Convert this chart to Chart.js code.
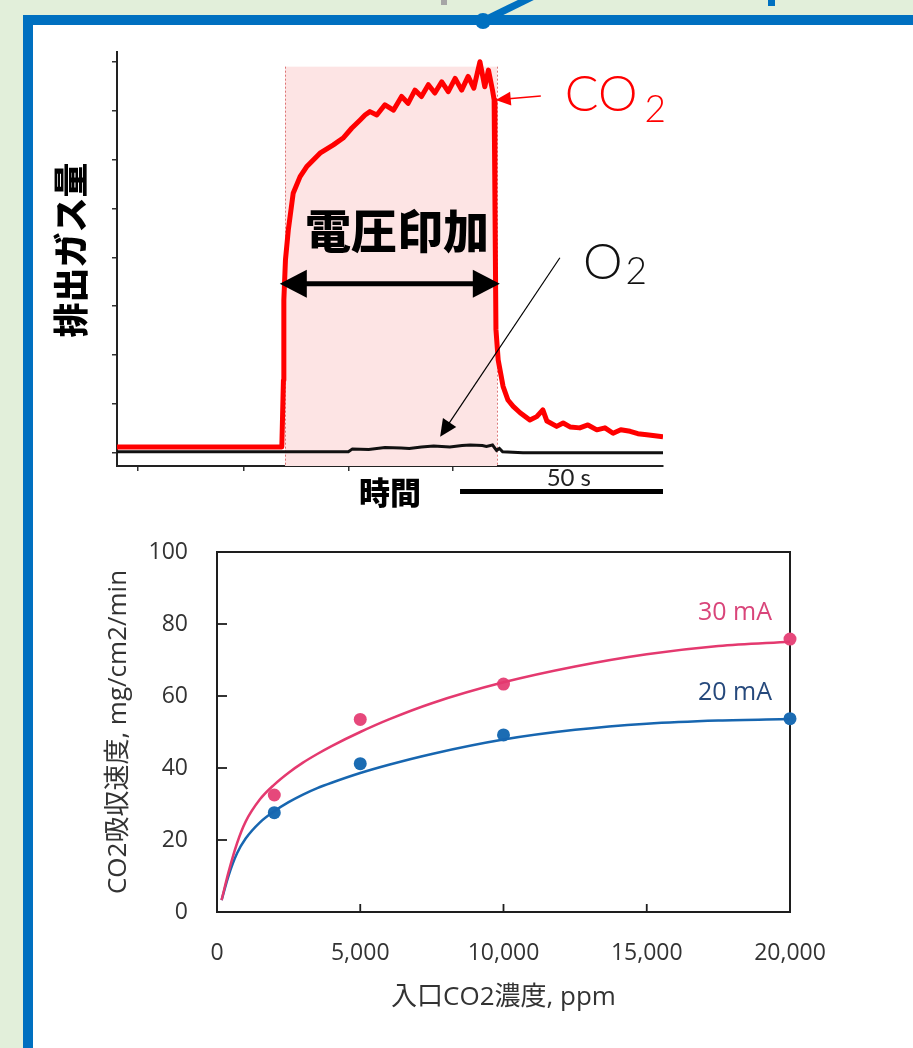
<!DOCTYPE html>
<html>
<head>
<meta charset="utf-8">
<script src="https://cdn.jsdelivr.net/npm/chart.js@4.4.1/dist/chart.umd.min.js"></script>
<style>
  html, body { margin: 0; padding: 0; }
  body { width: 913px; height: 1048px; background: #e2efda; position: relative; overflow: hidden; }
  #panel { position: absolute; left: 23px; top: 15px; width: 920px; height: 1060px;
           border: 10px solid #0070c0; background: #ffffff; }
  #link { position: absolute; left: 0; top: 0; }
  canvas { position: absolute; left: 0; }
</style>
</head>
<body>
<div id="panel"></div>
<svg id="link" width="913" height="40">
  <rect x="441" y="0" width="6" height="5" fill="#a6a6a6"/>
  <rect x="768" y="0" width="7" height="6" fill="#0070c0"/>
  <line x1="483" y1="21" x2="534" y2="-4" stroke="#0070c0" stroke-width="7"/>
  <circle cx="483" cy="21" r="8" fill="#0070c0"/>
</svg>
<canvas id="pulse" width="913" height="520" style="top:0"></canvas>
<canvas id="uptake" width="913" height="528" style="top:520px"></canvas>

<script>
// ---------- Upper panel: outlet gas trace (time in s, arbitrary level units) ----------
const co2Time = [0, 20, 40.6, 41.0, 41.1, 41.5, 42.2, 43.4, 45.1, 46.7, 50.0, 53.3, 55.7, 57.8, 59.9, 61.1, 62.3, 64.0, 66.0, 68.1, 70.1, 71.7, 73.4, 75.0, 76.7, 78.3, 80.0, 81.6, 83.3, 84.9, 86.5, 87.9, 89.4, 90.6, 91.5, 92.5, 92.9, 93.1, 93.35, 93.9, 95.1, 96.3, 97.6, 99.3, 101.7, 103.4, 104.9, 105.9, 108.3, 109.9, 111.6, 114.0, 116.0, 118.2, 120.2, 122.2, 124.1, 126.4, 128.3, 130.5, 132.5, 134.5];
const co2Level = [0.12, 0.12, 0.12, 1.49, 3.13, 3.95, 4.56, 5.31, 5.65, 5.85, 6.13, 6.30, 6.44, 6.64, 6.81, 6.91, 6.98, 6.91, 7.12, 7.01, 7.29, 7.15, 7.42, 7.29, 7.53, 7.36, 7.59, 7.39, 7.66, 7.42, 7.70, 7.46, 8.00, 7.49, 7.83, 7.42, 7.22, 5.17, 2.52, 1.90, 1.36, 1.08, 0.95, 0.82, 0.67, 0.74, 0.88, 0.65, 0.54, 0.61, 0.53, 0.51, 0.57, 0.47, 0.51, 0.40, 0.47, 0.44, 0.39, 0.37, 0.35, 0.33];
const o2Time = [0, 40, 57, 58, 62, 66, 70, 72, 75, 78, 80, 82, 85, 87, 90, 91, 92.5, 93.5, 94.2, 95, 100, 110, 120, 134.5];
const o2Level = [0.02, 0.02, 0.02, 0.08, 0.07, 0.11, 0.10, 0.09, 0.12, 0.14, 0.13, 0.12, 0.15, 0.16, 0.15, 0.13, 0.16, 0.05, 0.09, 0.02, 0.0, 0.0, 0.0, 0.0];
const timeTicks = [5.2, 31.3, 57.1, 82.8];
const levelTicks = [0, 1, 2, 3, 4, 5, 6, 7, 8];

// voltage-on window and annotation anchors (data units: s, level)
const VOLTAGE_ON = 41.4, VOLTAGE_OFF = 93.6, SHADE_TOP = 7.9;
const SPAN_ARROW = { from: 40.1, to: 94.3, level: 3.46 };
const VOLTAGE_LABEL = { t: 69.0, level: 4.55, text: '電圧印加' };
const CO2_LABEL = { t: 110.3, level: 7.0, base: 'CO', sub: '2', subDx: 7, subDy: 11 };
const CO2_POINTER = { from: [104.4, 7.30], to: [93.3, 7.22] };
const O2_LABEL = { t: 114.8, level: 3.56, base: 'O', sub: '2', subDx: 3, subDy: 5 };
const O2_POINTER = { from: [109.1, 3.99], to: [79.6, 0.33] };
const SCALE_BAR = { from: 84.5, to: 134.5, level: -0.79, text: '50 s', textT: 111.3, textLevel: -0.53 };
const LEVEL_TITLE = { text: '排出ガス量', level: 4.15, gap: 46 };

// ---------- Lower panel: CO2 uptake rate vs inlet concentration ----------
const concPpm = [2000, 5000, 10000, 20000];
const rate30mA = [32.5, 53.5, 63.3, 75.8];
const rate20mA = [27.6, 41.2, 49.2, 53.7];
const fitPpm = [160, 400, 700, 1000, 1500, 2000, 2500, 3000, 3500, 4000, 5000, 6000, 7500, 10000, 12500, 15000, 17500, 20000];
const fit30mA = [3.3, 11.0, 19.1, 25.1, 31.3, 35.4, 38.7, 41.5, 43.9, 46.1, 50.0, 53.5, 58.0, 63.8, 68.2, 71.6, 73.9, 75.1];
const fit20mA = [3.3, 10.0, 16.3, 20.4, 24.9, 28.0, 30.5, 32.6, 34.4, 35.9, 38.6, 40.9, 43.9, 47.9, 50.6, 52.3, 53.2, 53.6];
const rateTicks = [0, 20, 40, 60, 80, 100];
const concTicks = [0, 5000, 10000, 15000, 20000];
const SERIES_LABELS = [
  { text: '30 mA', ppm: 19370, rate: 83.1, color: '#d9457a' },
  { text: '20 mA', ppm: 19370, rate: 60.9, color: '#26497c' }
];

const PINK = '#e4396f', BLUE = '#1766b0';
const toXY = (xs, ys) => xs.map((v, i) => ({ x: v, y: ys[i] }));
const noEdgePadding = s => { s.paddingTop = 0; s.paddingBottom = 0; s.paddingLeft = 0; s.paddingRight = 0; };

Chart.defaults.font.family = "'Open Sans', 'Noto Sans CJK JP', sans-serif";
Chart.defaults.color = '#333';

function arrowHead(ctx, x1, y1, x2, y2, len, half) {
  const a = Math.atan2(y2 - y1, x2 - x1);
  const bx = x2 - len * Math.cos(a), by = y2 - len * Math.sin(a);
  ctx.beginPath();
  ctx.moveTo(x2, y2);
  ctx.lineTo(bx + half * Math.sin(a), by - half * Math.cos(a));
  ctx.lineTo(bx - half * Math.sin(a), by + half * Math.cos(a));
  ctx.closePath();
  ctx.fill();
}
function arrow(ctx, x1, y1, x2, y2, len, half, width, color) {
  const a = Math.atan2(y2 - y1, x2 - x1);
  ctx.strokeStyle = color; ctx.fillStyle = color; ctx.lineWidth = width;
  ctx.beginPath();
  ctx.moveTo(x1, y1);
  ctx.lineTo(x2 - (len - 2) * Math.cos(a), y2 - (len - 2) * Math.sin(a));
  ctx.stroke();
  arrowHead(ctx, x1, y1, x2, y2, len, half);
}
function chemLabel(ctx, lbl, x, y, color) {
  ctx.fillStyle = color; ctx.textAlign = 'left'; ctx.textBaseline = 'alphabetic';
  ctx.font = "300 50px Lato, 'Noto Sans', sans-serif";
  ctx.fillText(lbl.base, x, y);
  const w = ctx.measureText(lbl.base).width;
  ctx.font = "300 37px Lato, 'Noto Sans', sans-serif";
  ctx.fillText(lbl.sub, x + w + lbl.subDx, y + lbl.subDy);
}

const pulseDecor = {
  id: 'pulseDecor',
  beforeDatasetsDraw(chart) {
    const { ctx, scales: { x, y } } = chart;
    const x0 = x.getPixelForValue(VOLTAGE_ON), x1 = x.getPixelForValue(VOLTAGE_OFF);
    const yt = y.getPixelForValue(SHADE_TOP);
    ctx.save();
    ctx.fillStyle = '#fde4e4';
    ctx.fillRect(x0, yt, x1 - x0, y.bottom - yt);
    ctx.setLineDash([2, 2]);
    ctx.strokeStyle = 'rgba(214, 96, 96, 0.85)';
    ctx.lineWidth = 1;
    [x0, x1].forEach(px => {
      ctx.beginPath();
      ctx.moveTo(Math.round(px) + 0.5, yt);
      ctx.lineTo(Math.round(px) + 0.5, y.bottom);
      ctx.stroke();
    });
    ctx.restore();
  },
  afterDatasetsDraw(chart) {
    const { ctx, scales: { x, y } } = chart;
    const X = v => x.getPixelForValue(v), Y = v => y.getPixelForValue(v);
    ctx.save();
    // vertical axis title
    ctx.save();
    ctx.translate(x.left - LEVEL_TITLE.gap, Y(LEVEL_TITLE.level));
    ctx.rotate(-Math.PI / 2);
    ctx.fillStyle = '#000';
    ctx.font = "900 35px 'Noto Sans CJK JP', sans-serif";
    ctx.textAlign = 'center'; ctx.textBaseline = 'middle';
    ctx.fillText(LEVEL_TITLE.text, 0, 0);
    ctx.restore();
    // voltage-on span arrow
    const ya = Y(SPAN_ARROW.level), xa = X(SPAN_ARROW.from), xb = X(SPAN_ARROW.to);
    ctx.strokeStyle = '#000'; ctx.fillStyle = '#000'; ctx.lineWidth = 5;
    ctx.beginPath(); ctx.moveTo(xa + 20, ya); ctx.lineTo(xb - 20, ya); ctx.stroke();
    arrowHead(ctx, xb, ya, xa, ya, 27, 14);
    arrowHead(ctx, xa, ya, xb, ya, 27, 14);
    // span label
    ctx.font = "900 46px 'Noto Sans CJK JP', sans-serif";
    ctx.textAlign = 'center'; ctx.textBaseline = 'middle';
    ctx.fillText(VOLTAGE_LABEL.text, X(VOLTAGE_LABEL.t), Y(VOLTAGE_LABEL.level));
    // gas labels and pointers
    arrow(ctx, X(CO2_POINTER.from[0]), Y(CO2_POINTER.from[1]), X(CO2_POINTER.to[0]), Y(CO2_POINTER.to[1]), 15, 7, 1.6, '#ff0000');
    chemLabel(ctx, CO2_LABEL, X(CO2_LABEL.t), Y(CO2_LABEL.level), '#ff0000');
    arrow(ctx, X(O2_POINTER.from[0]), Y(O2_POINTER.from[1]), X(O2_POINTER.to[0]), Y(O2_POINTER.to[1]), 17, 8, 1.2, '#000');
    chemLabel(ctx, O2_LABEL, X(O2_LABEL.t), Y(O2_LABEL.level), '#111');
    // time scale bar
    ctx.strokeStyle = '#000'; ctx.lineWidth = 5;
    ctx.beginPath(); ctx.moveTo(X(SCALE_BAR.from), Y(SCALE_BAR.level)); ctx.lineTo(X(SCALE_BAR.to), Y(SCALE_BAR.level)); ctx.stroke();
    ctx.fillStyle = '#222';
    ctx.font = "24px Lato, 'Open Sans', sans-serif";
    ctx.textAlign = 'center'; ctx.textBaseline = 'middle';
    ctx.fillText(SCALE_BAR.text, X(SCALE_BAR.textT), Y(SCALE_BAR.textLevel));
    ctx.restore();
  }
};

new Chart(document.getElementById('pulse'), {
  type: 'line',
  data: {
    datasets: [
      { label: 'O2', data: toXY(o2Time, o2Level), borderColor: '#111', borderWidth: 3, pointRadius: 0, tension: 0 },
      { label: 'CO2', data: toXY(co2Time, co2Level), borderColor: '#ff0000', borderWidth: 5, pointRadius: 0, tension: 0, borderJoinStyle: 'round' }
    ]
  },
  options: {
    responsive: false, animation: false, devicePixelRatio: 1,
    layout: { padding: { left: 0, right: 250, top: 52, bottom: 0 } },
    plugins: { legend: { display: false }, tooltip: { enabled: false } },
    scales: {
      x: {
        type: 'linear', min: 0, max: 134.5,
        afterBuildTicks: s => { s.ticks = timeTicks.map(v => ({ value: v })); },
        afterFit: s => { s.height = 54; noEdgePadding(s); },
        ticks: { display: false },
        grid: { drawOnChartArea: false, tickLength: 5, color: '#333', lineWidth: 1.5 },
        border: { color: '#222', width: 2 },
        title: { display: true, text: '時間', color: '#000', padding: { top: 0, bottom: 9 },
                 font: { family: "'Noto Sans CJK JP', sans-serif", size: 31, weight: '900' } }
      },
      y: {
        type: 'linear', min: -0.27, max: 8.2,
        afterBuildTicks: s => { s.ticks = levelTicks.map(v => ({ value: v })); },
        afterFit: s => { s.width = 117; noEdgePadding(s); },
        ticks: { display: false },
        grid: { drawOnChartArea: false, tickLength: 5, color: '#333', lineWidth: 1.5 },
        border: { color: '#222', width: 2 }
      }
    }
  },
  plugins: [pulseDecor]
});

const uptakeDecor = {
  id: 'uptakeDecor',
  beforeDatasetsDraw(chart) {
    const { ctx, chartArea: a, scales: { x, y } } = chart;
    ctx.save();
    ctx.strokeStyle = '#1e1e1e'; ctx.lineWidth = 2;
    ctx.strokeRect(a.left, a.top, a.right - a.left, a.bottom - a.top);
    ctx.lineWidth = 1.8;
    rateTicks.forEach(v => {
      if (v <= y.min || v >= y.max) return;
      const py = y.getPixelForValue(v);
      ctx.beginPath(); ctx.moveTo(a.left, py); ctx.lineTo(a.left + 10, py); ctx.stroke();
    });
    concTicks.forEach(v => {
      if (v <= x.min || v >= x.max) return;
      const px = x.getPixelForValue(v);
      ctx.beginPath(); ctx.moveTo(px, a.bottom); ctx.lineTo(px, a.bottom - 8); ctx.stroke();
    });
    ctx.restore();
  },
  afterDatasetsDraw(chart) {
    const { ctx, scales: { x, y } } = chart;
    ctx.save();
    ctx.font = "25px 'Open Sans', sans-serif";
    ctx.textAlign = 'right'; ctx.textBaseline = 'middle';
    SERIES_LABELS.forEach(l => {
      ctx.fillStyle = l.color;
      ctx.fillText(l.text, x.getPixelForValue(l.ppm), y.getPixelForValue(l.rate));
    });
    ctx.restore();
  }
};

new Chart(document.getElementById('uptake'), {
  type: 'scatter',
  data: {
    datasets: [
      { label: '30 mA fit', data: toXY(fitPpm, fit30mA), showLine: true, borderColor: PINK, borderWidth: 2.5,
        pointRadius: 0, cubicInterpolationMode: 'monotone' },
      { label: '20 mA fit', data: toXY(fitPpm, fit20mA), showLine: true, borderColor: BLUE, borderWidth: 2.5,
        pointRadius: 0, cubicInterpolationMode: 'monotone' },
      { label: '30 mA', data: toXY(concPpm, rate30mA), showLine: false, pointRadius: 6.5,
        backgroundColor: '#e6487b', borderWidth: 0, clip: false },
      { label: '20 mA', data: toXY(concPpm, rate20mA), showLine: false, pointRadius: 6.5,
        backgroundColor: '#1b6cb3', borderWidth: 0, clip: false }
    ]
  },
  options: {
    responsive: false, animation: false, devicePixelRatio: 1,
    layout: { padding: { left: 0, right: 123, top: 32, bottom: 0 } },
    plugins: { legend: { display: false }, tooltip: { enabled: false } },
    scales: {
      x: {
        type: 'linear', min: 0, max: 20000,
        afterBuildTicks: s => { s.ticks = concTicks.map(v => ({ value: v })); },
        afterFit: s => { s.height = 136; noEdgePadding(s); },
        grid: { display: false }, border: { display: false },
        ticks: { padding: 20, color: '#333', font: { size: 23 }, callback: v => v.toLocaleString('en-US') },
        title: { display: true, text: '入口CO2濃度, ppm', color: '#333', padding: { top: 0, bottom: 35 },
                 font: { size: 26 } }
      },
      y: {
        type: 'linear', min: 0, max: 100,
        afterBuildTicks: s => { s.ticks = rateTicks.map(v => ({ value: v })); },
        afterFit: s => { s.width = 217; noEdgePadding(s); },
        grid: { display: false }, border: { display: false },
        ticks: { padding: 21, color: '#333', font: { size: 23 } },
        title: { display: true, text: 'CO2吸収速度, mg/cm2/min', color: '#333', padding: { top: 103, bottom: 0 },
                 font: { size: 26 } }
      }
    }
  },
  plugins: [uptakeDecor]
});
</script>
</body>
</html>
